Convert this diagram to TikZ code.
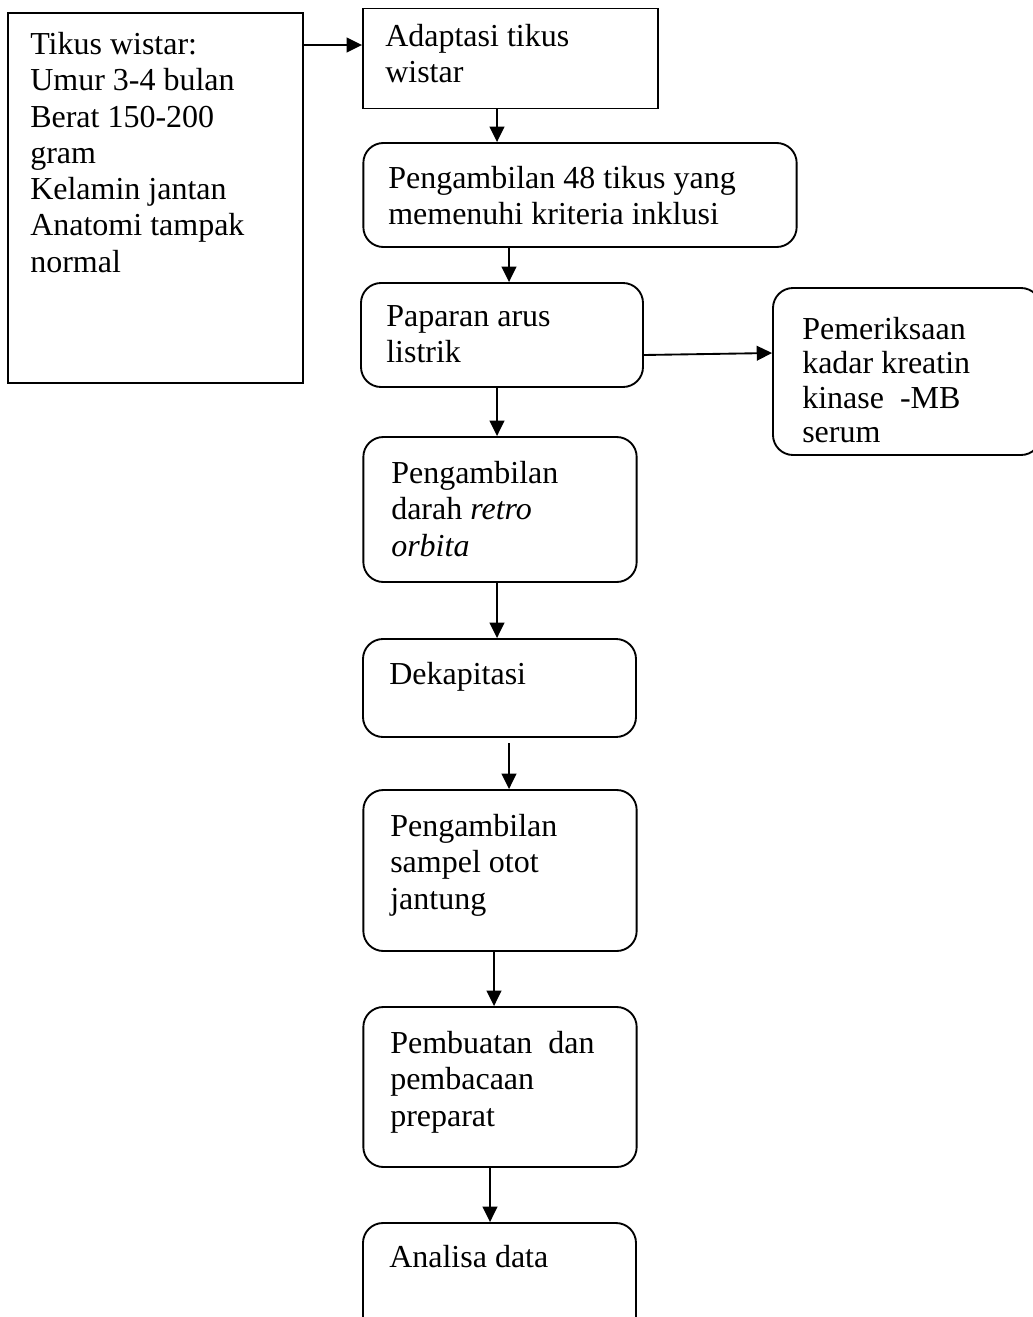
\documentclass[tikz,border=0pt]{standalone}
\usepackage{fontspec}
\setmainfont{Liberation Serif}
\usetikzlibrary{arrows.meta}

\tikzset{
  flowbox/.style={draw, line width=1.4pt, minimum width=#1, inner sep=0pt},
  roundbox/.style={flowbox=#1, rounded corners=15pt},
  boxtext/.style={anchor=north west, inner sep=0pt, align=left,
    font=\fontsize{24}{27.2}\selectfont},
  arr/.style={line width=1.4pt, -{Triangle[length=11.5pt,width=11pt]}},
}

\begin{document}
\begin{tikzpicture}[x=0.75pt,y=-0.75pt]
\useasboundingbox (0,0) rectangle (1032,1317);

% kotak
\node[flowbox=221pt, minimum height=277.5pt] (tikus) at (155.5,198) {};
\node[flowbox=221.25pt, minimum height=75pt] (adaptasi) at (510.5,58.5) {};
\node[roundbox=325pt, minimum height=78pt] (ambil) at (580,195) {};
\node[roundbox=211.5pt, minimum height=78pt] (paparan) at (502,335) {};
\node[roundbox=201pt, minimum height=125.25pt] (periksa) at (907,371.5) {};
\node[roundbox=205pt, minimum height=108.75pt] (darah) at (500,509.5) {};
\node[roundbox=204.75pt, minimum height=73.5pt] (dekap) at (499.5,688) {};
\node[roundbox=205pt, minimum height=120.75pt] (sampel) at (500,870.5) {};
\node[roundbox=205pt, minimum height=120pt] (buat) at (500,1087) {};
\node[roundbox=204.75pt, minimum height=90pt] (analisa) at (499.5,1283) {};

% teks
\node[boxtext] (tikus-t) at (30,32) {Tikus wistar:\\Umur 3-4 bulan\\Berat 150-200\\gram\\Kelamin jantan\\Anatomi tampak\\normal};
\node[boxtext] (adaptasi-t) at (385,24) {Adaptasi tikus\\wistar};
\node[boxtext] (ambil-t) at (388,166) {Pengambilan 48 tikus yang\\memenuhi kriteria inklusi};
\node[boxtext] (paparan-t) at (386,305) {Paparan arus\\listrik};
\node[boxtext, font=\fontsize{24}{25.8}\selectfont] (periksa-t) at (802,317) {Pemeriksaan\\kadar kreatin\\kinase~ -MB\\serum};
\node[boxtext] (darah-t) at (391,461) {Pengambilan\\darah \textit{retro}\\\textit{orbita}};
\node[boxtext] (dekap-t) at (389,662) {Dekapitasi};
\node[boxtext] (sampel-t) at (390,814) {Pengambilan\\sampel otot\\jantung};
\node[boxtext] (buat-t) at (390,1031) {Pembuatan~ dan\\pembacaan\\preparat};
\node[boxtext] (analisa-t) at (389,1245) {Analisa data};

% panah
\draw[arr] (tikus.east |- 0,45) -- (adaptasi.west |- 0,45);
\draw[arr] (adaptasi.south -| 497,0) -- (ambil.north -| 497,0);
\draw[arr] (ambil.south -| 509,0) -- (paparan.north -| 509,0);
\draw[arr] (paparan.east |- 0,355) -- (periksa.west |- 0,353);
\draw[arr] (paparan.south -| 497,0) -- (darah.north -| 497,0);
\draw[arr] (darah.south -| 497,0) -- (dekap.north -| 497,0);
\draw[arr] ([yshift=-4pt]dekap.south -| 509,0) -- (sampel.north -| 509,0);
\draw[arr] (sampel.south -| 494,0) -- (buat.north -| 494,0);
\draw[arr] (buat.south -| 490,0) -- (analisa.north -| 490,0);
\end{tikzpicture}
\end{document}
